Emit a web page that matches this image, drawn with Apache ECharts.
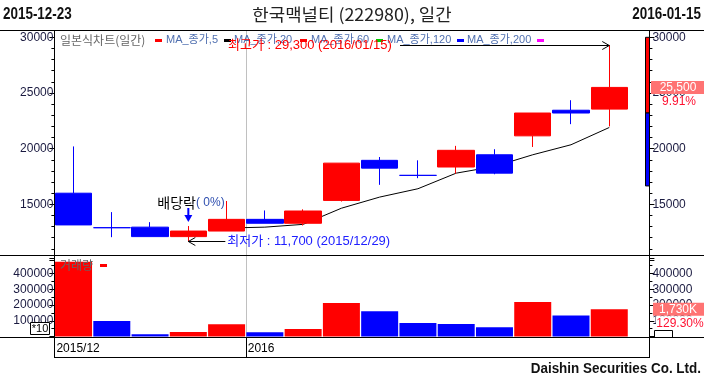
<!DOCTYPE html>
<html><head><meta charset="utf-8">
<script src="https://cdn.jsdelivr.net/npm/echarts@6/dist/echarts.min.js"></script>
<style>html,body{margin:0;padding:0;background:#fff}#c{width:704px;height:381px}</style>
</head><body><div id="c"></div>
<script>
// ---- data ----
const categories = ['2015-12-23','2015-12-24','2015-12-28','2015-12-29','2015-12-30','2016-01-04','2016-01-05','2016-01-06','2016-01-07','2016-01-08','2016-01-11','2016-01-12','2016-01-13','2016-01-14','2016-01-15'];
const opens  = [16000,12900,12950,12100,12600,13650,13300,15350,18950,17600,18350,19450,21150,23450,23550];
const closes = [13150,12900,12100,12600,13650,13300,14400,18700,18250,17600,19850,17800,23200,23200,25500];
const lows   = [13150,12050,12100,11700,12600,13300,13100,15250,16750,17350,17750,17700,20150,22200,22000];
const highs  = [20200,14300,13400,13050,15300,14450,14550,18700,19250,18950,20250,19950,23200,24350,29300];
const ma5    = [null,null,null,null,12870,12950,13200,14650,15650,16400,17800,18400,19450,20350,21900];
const volumes= [474000,98000,14000,28000,78000,27000,47000,212000,161000,85000,79000,59000,219000,133800,173000];
const priceTicks = [15000,20000,25000,30000];
const volumeTicks = [100000,200000,300000,400000];
const dateTickPos = [0,5];
const dateTickLabels = ['2015/12','2016'];
const sideRange = [30000,23200,16650];
const exDivIndex = 3;
const legendItems = ['MA_종가,5','MA_종가,20','MA_종가,60','MA_종가,120','MA_종가,200'];
const legendColors = ['#ff0000','#000000','#ff0000','#00cc00','#0000ff','#ff00ff'];

// ---- chart ----
const UP='#ff0000', DN='#0000ff';
const FONT='"Liberation Sans", Arial, "Noto Sans CJK KR", sans-serif';
const KFONT='"Liberation Sans", "Noto Sans CJK KR", sans-serif';
const LBL='#1a1a40';
const candleData = categories.map((c,i)=>[opens[i],closes[i],lows[i],highs[i]]);
// volume bars coloured by change against the previous day's volume
const volData = volumes.map((v,i)=>({value:v,itemStyle:{color:(i===0||v>=volumes[i-1])?UP:DN}}));

const chart = echarts.init(document.getElementById('c'));
function yAx(grid,pos,min,max,interval,split,ticks){
  return {type:'value',gridIndex:grid,position:pos,offset:pos==='right'?21:0,min:min,max:max,interval:interval,
    axisLine:{show:true,lineStyle:{color:'#000',width:1}},
    axisTick:{show:true,length:5,lineStyle:{color:'#000'}},
    minorTick:{show:true,splitNumber:split,length:3,lineStyle:{color:'#000'}},
    splitLine:{show:false},
    axisLabel:{margin:pos==='right'?3:1,color:LBL,fontSize:12,fontFamily:FONT,
      formatter:v=>ticks.indexOf(v)>=0?String(v):''}};
}
chart.setOption({
  animation:false,
  grid:[{left:54.4,width:574,top:37.3,height:222.7},
        {left:54.4,width:574,top:257.75,height:78.75},
        {left:54.4,width:574,top:337.5,height:19.5}],
  xAxis:[
    {type:'category',gridIndex:0,data:categories,show:false},
    {type:'category',gridIndex:1,data:categories,show:false},
    {type:'value',gridIndex:2,min:0,max:categories.length,interval:5,
     axisLine:{show:false},axisTick:{show:false},splitLine:{show:false},
     axisLabel:{inside:true,margin:2,align:'left',verticalAlign:'bottom',padding:[0,0,0,2],color:'#000',fontSize:12,fontFamily:FONT,
       formatter:v=>{const k=dateTickPos.indexOf(v);return k>=0?dateTickLabels[k]:'';}}}
  ],
  yAxis:[
    yAx(0,'left',10000,30000,5000,5,priceTicks),
    yAx(0,'right',10000,30000,5000,5,priceTicks),
    yAx(1,'left',0,500000,100000,2,volumeTicks),
    yAx(1,'right',0,500000,100000,2,volumeTicks),
    {type:'value',gridIndex:2,show:false,min:0,max:1}
  ],
  series:[
    {type:'candlestick',xAxisIndex:0,yAxisIndex:0,data:candleData,barWidth:37,z:3,
     itemStyle:{color:UP,color0:DN,borderColor:UP,borderColor0:DN,borderColorDoji:DN,borderWidth:1}},
    {type:'line',xAxisIndex:0,yAxisIndex:0,data:ma5,symbol:'none',z:2,lineStyle:{color:'#000',width:1}},
    {type:'bar',xAxisIndex:1,yAxisIndex:2,data:volData,barWidth:37,z:3}
  ]
});

// ---- overlays ----
const py = v => chart.convertToPixel({yAxisIndex:0}, v);
const vy = v => chart.convertToPixel({yAxisIndex:2}, v);
const xc = i => chart.convertToPixel({xAxisIndex:0}, categories[i]);
const xd = v => chart.convertToPixel({xAxisIndex:2}, v);
const fmt = n => n.toLocaleString('en-US');
const g = [];
function L(x1,y1,x2,y2,c,z){ g.push({type:'line',zlevel:1,z:z||50,shape:{x1,y1,x2,y2},style:{stroke:c||'#000',lineWidth:1}}); }
function T(x,y,text,o,z,extra){ g.push(Object.assign({type:'text',zlevel:1,z:z||60,x,y,style:Object.assign({text,fill:'#000',font:'12px '+FONT,textVerticalAlign:'middle'},o||{})},extra||{})); }
function R(x,y,w,h,fill,stroke,z){ g.push({type:'rect',zlevel:1,z:z||55,shape:{x,y,width:w,height:h},style:{fill:fill||'none',stroke:stroke||null,lineWidth:1}}); }

// frame
const xl=54.5, xr=649.5;
L(0,30.5,704,30.5); L(0,255.5,704,255.5); L(0,337.5,704,337.5);
L(xl,30,xl,358); L(xr,30,xr,358); L(xl,357.5,xr,357.5);
const dx = Math.round(xd(dateTickPos[1]))+0.5;
g.push({type:'line',z:1,shape:{x1:dx,y1:31,x2:dx,y2:337},style:{stroke:'#c0c0c0',lineWidth:1}});
L(dx,338,dx,357);

// header
const HF='bold 16px "Liberation Sans Narrow", "Liberation Sans", sans-serif';
T(3,15,categories[0],{font:HF,fill:'#111'},60,{scaleX:0.84});
T(701,15,categories[categories.length-1],{font:HF,fill:'#111',textAlign:'right'},60,{scaleX:0.84});
T(352,15,'한국맥널티 (222980), 일간',{font:'17px "Noto Sans CJK KR", sans-serif',fill:'#222',textAlign:'center'},60,{scaleX:1.05});
T(701,369,'Daishin Securities Co. Ltd.',{font:'bold 14px "Liberation Sans Narrow", "Liberation Sans", sans-serif',fill:'#111',textAlign:'right'},60,{scaleX:0.96});

// legend (price)
T(60,40,'일본식차트(일간)',{font:'12px "Noto Sans CJK KR", sans-serif',fill:'#666'});
const legX=[155,224,300,376,457,537], legTX=[166,234,311,387,467];
legendColors.forEach((c,i)=>{ R(legX[i],39,7,3,c,null,58); });
legendItems.forEach((t,i)=>{ T(legTX[i],40,t,{font:'11px '+KFONT,fill:'#5070b0'}); });
// legend (volume)
T(60,265,'거래량',{font:'12px "Noto Sans CJK KR", sans-serif',fill:'#666'});
R(100,264,7,3,'#ff0000',null,58);

// high / low annotations
let hi=0, lo=0;
highs.forEach((h,i)=>{ if(h>highs[hi]) hi=i; });
lows.forEach((l,i)=>{ if(l<lows[lo]) lo=i; });
const hx=xc(hi), hy=Math.round(py(highs[hi]))+0.5;
T(228,hy,'최고가 : '+fmt(highs[hi])+' ('+categories[hi].replace(/-/g,'/')+')',{font:'13px '+KFONT,fill:'#ff0000'},61);
L(400,hy,hx,hy,'#000',61);
g.push({type:'polyline',zlevel:1,z:61,shape:{points:[[hx-7,hy-4],[hx,hy],[hx-7,hy+4]]},style:{stroke:'#000',lineWidth:1,fill:null}});
const lx=xc(lo), ly=Math.round(py(lows[lo]))+0.5;
T(lx+39,ly,'최저가 : '+fmt(lows[lo])+' ('+categories[lo].replace(/-/g,'/')+')',{font:'13px '+KFONT,fill:'#2020ff'},61);
L(lx+37,ly,lx,ly,'#000',61);
g.push({type:'polyline',zlevel:1,z:61,shape:{points:[[lx+7,ly-4],[lx,ly],[lx+7,ly+4]]},style:{stroke:'#000',lineWidth:1,fill:null}});

// ex-dividend marker
const ex=xc(exDivIndex);
g.push({type:'text',zlevel:1,z:60,x:ex-31,y:203,style:{text:'{a|배당락}{b|( 0%)}',textVerticalAlign:'middle',
  rich:{a:{font:'14px "Noto Sans CJK KR", sans-serif',fill:'#000'},b:{font:'12px '+FONT,fill:'#3050b0'}}}});
g.push({type:'line',zlevel:1,z:61,shape:{x1:ex,y1:208,x2:ex,y2:216},style:{stroke:'#0000ff',lineWidth:2}});
g.push({type:'polygon',zlevel:1,z:61,shape:{points:[[ex-4,215],[ex+4,215],[ex,222]]},style:{fill:'#0000ff'}});

// right side range bar
const s0=py(sideRange[0]), s1=py(sideRange[1]), s2=py(sideRange[2]);
R(645.5,s0,4,s1-s0,'#ff0000','#000',56);
R(645.5,s1,4,s2-s1,'#0000ff','#000',56);

// last price / volume labels
const n=closes.length-1;
const cy=py(closes[n]);
R(651,cy-6.5,53,13,'#ff7373',null,62);
T(678,cy,fmt(closes[n]),{font:'12px '+FONT,fill:'#fff',textAlign:'center'},64);
T(679,cy+14.5,((closes[n]/closes[n-1]-1)*100).toFixed(2)+'%',{font:'12px '+FONT,fill:'#ff1030',textAlign:'center'},64);
const vyy=vy(volumes[n]);
R(653,vyy-6.5,51,13,'#ff7373',null,62);
T(678,vyy,fmt(Math.round(volumes[n]*10/1000))+'K',{font:'12px '+FONT,fill:'#fff',textAlign:'center'},64);
R(656,vyy+7,48,13,'#fff',null,62);
T(680,vyy+14,((volumes[n]/volumes[n-1])*100).toFixed(2)+'%',{font:'12px '+FONT,fill:'#ff1030',textAlign:'center'},64);

// *10 boxes
R(30.5,322.5,19,12,'#fff','#000',62); T(40,328.5,'*10',{font:'11px '+FONT,fill:'#000',textAlign:'center'},64);
g.push({type:'polyline',zlevel:1,z:54,shape:{points:[[654.5,337],[654.5,330.5],[672.5,330.5],[672.5,337]]},style:{stroke:'#000',lineWidth:1,fill:'#fff'}});

chart.setOption({graphic:{elements:g}});
</script></body></html>
